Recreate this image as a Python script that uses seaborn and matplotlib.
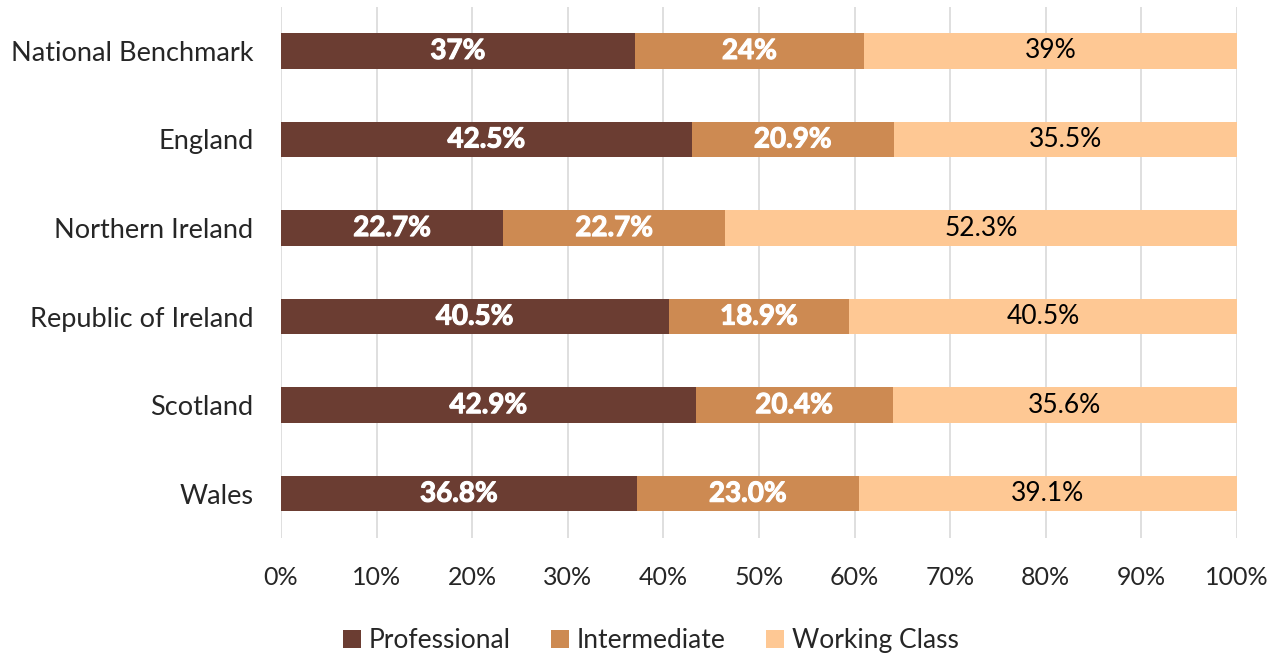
import numpy as np
import pandas as pd
import matplotlib
matplotlib.use("Agg")
import matplotlib.pyplot as plt
import matplotlib.patheffects as pe
import seaborn as sns
from matplotlib.patches import Patch

categories = ["National Benchmark", "England", "Northern Ireland",
              "Republic of Ireland", "Scotland", "Wales"]
professional = [37, 42.5, 22.7, 40.5, 42.9, 36.8]
intermediate = [24, 20.9, 22.7, 18.9, 20.4, 23.0]
working_class = [39, 35.5, 52.3, 40.5, 35.6, 39.1]
label_decimals = [0, 1, 1, 1, 1, 1]
series_names = ["Professional", "Intermediate", "Working Class"]
colors = ["#6B3D32", "#CD8A52", "#FEC894"]
xticks = [0, 10, 20, 30, 40, 50, 60, 70, 80, 90, 100]

sns.set_theme(style="white")
plt.rcParams["font.family"] = ["Lato", "DejaVu Sans"]

fig = plt.figure(figsize=(12.81, 6.54), dpi=100)
ax = fig.add_axes([0.2194, 0.1774, 0.9656 - 0.2194, 0.9898 - 0.1774])

vals = np.array([professional, intermediate, working_class], dtype=float)
totals = vals.sum(axis=0)
norm = vals / totals * 100
cum = np.cumsum(norm, axis=0)

# draw from the longest cumulative bar to the shortest
for i in range(2, -1, -1):
    df = pd.DataFrame({"cat": categories, "val": cum[i]})
    sns.barplot(data=df, x="val", y="cat", color=colors[i], width=0.4,
                orient="h", ax=ax, saturation=1, zorder=3, linewidth=0)

bold_fx = [pe.withStroke(linewidth=0.8, foreground="white")]
for i in range(3):
    starts = cum[i] - norm[i]
    for j, cat in enumerate(categories):
        center = starts[j] + norm[i][j] / 2
        d = label_decimals[j]
        txt = f"{vals[i][j]:.{d}f}%"
        if i < 2:
            ax.text(center, j, txt, ha="center", va="center", color="white",
                    fontsize=20, fontweight="bold", path_effects=bold_fx, zorder=5)
        else:
            ax.text(center, j, txt, ha="center", va="center", color="black",
                    fontsize=19, zorder=5)

ax.set_xlim(0, 100)
ax.set_ylim(5.5, -0.5)
ax.set_xticks(xticks)
ax.set_xticklabels([f"{t}%" for t in xticks], fontsize=18)
ax.tick_params(axis="y", labelsize=19.5, pad=20, length=0)
ax.tick_params(axis="x", pad=20, length=0)
ax.set_xlabel("")
ax.set_ylabel("")
ax.xaxis.grid(True, color="#D9D9D9", linewidth=1.2, zorder=0)
ax.set_axisbelow(True)
for s in ax.spines.values():
    s.set_visible(False)

handles = [Patch(facecolor=c, edgecolor="none") for c in colors]
fig.legend(handles, series_names, loc="lower center", bbox_to_anchor=(0.508, -0.035),
           ncol=3, frameon=False, fontsize=19, handlelength=0.7, handleheight=0.7,
           handletextpad=0.3, columnspacing=1.5)

fig.savefig("out.png", dpi=100)
